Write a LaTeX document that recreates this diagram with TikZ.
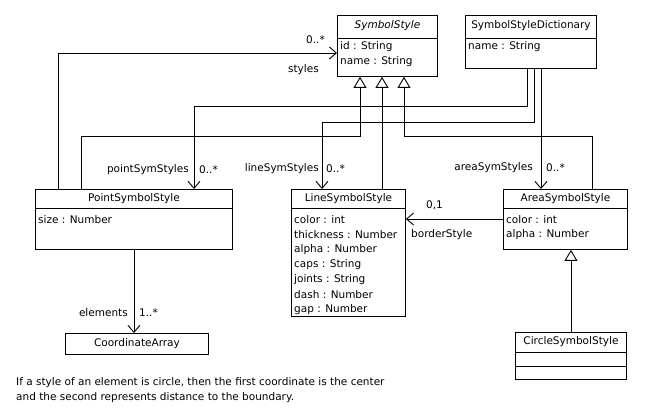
\documentclass[tikz,border=0pt]{standalone}
\usepackage{fontspec}
\setmainfont{DejaVu Sans}
\usetikzlibrary{arrows.meta,calc}
\begin{document}
\begin{tikzpicture}[x=1pt,y=-1pt,
  every node/.style={font=\fontsize{10.5}{12}\selectfont, inner sep=0pt},
  cls/.style={draw, line width=0.9pt, anchor=north west, fill=white},
  ttl/.style={anchor=center},
  attr/.style={anchor=west},
  assoc/.style={draw, line width=0.9pt, -{Straight Barb[length=7pt,width=12pt,line width=0.9pt]}},
  gen/.style={draw, line width=0.9pt, -{Triangle[open,length=11pt,width=13pt,line width=0.9pt,fill=white]}},
  dv/.style={line width=0.9pt}]
\useasboundingbox (0,0) rectangle (650,411);

% classes
\node[cls, minimum width=100pt, minimum height=61pt] (ss) at (337,15) {};
\draw[dv] ($(ss.north west)+(0,23)$) -- ($(ss.north east)+(0,23)$);
\node[ttl, font=\fontsize{10.5}{12}\selectfont\itshape] (sst) at ($(ss.north)+(0,11)$) {SymbolStyle};
\node[attr] (ssa1) at ($(ss.north west)+(3,32)$) {id : String};
\node[attr] (ssa2) at ($(ss.north west)+(3,47)$) {name : String};

\node[cls, minimum width=131pt, minimum height=53pt] (ssd) at (465,15) {};
\draw[dv] ($(ssd.north west)+(0,23)$) -- ($(ssd.north east)+(0,23)$);
\node[ttl] (ssdt) at ($(ssd.north)+(0,11)$) {SymbolStyleDictionary};
\node[attr] (ssda1) at ($(ssd.north west)+(3,32)$) {name : String};

\node[cls, minimum width=197pt, minimum height=60pt] (pss) at (35,189) {};
\draw[dv] ($(pss.north west)+(0,19)$) -- ($(pss.north east)+(0,19)$);
\node[ttl] (psst) at ($(pss.north)+(0,9.5)$) {PointSymbolStyle};
\node[attr] (pssa1) at ($(pss.north west)+(3,31)$) {size : Number};

\node[cls, minimum width=114pt, minimum height=127pt] (lss) at (291,189) {};
\draw[dv] ($(lss.north west)+(0,19)$) -- ($(lss.north east)+(0,19)$);
\node[ttl] (lsst) at ($(lss.north)+(0,9.5)$) {LineSymbolStyle};
\node[attr] (lssa1) at ($(lss.north west)+(3,31)$) {color : int};
\node[attr] (lssa2) at ($(lss.north west)+(3,46)$) {thickness : Number};
\node[attr] (lssa3) at ($(lss.north west)+(3,61)$) {alpha : Number};
\node[attr] (lssa4) at ($(lss.north west)+(3,76)$) {caps : String};
\node[attr] (lssa5) at ($(lss.north west)+(3,91)$) {joints : String};
\node[attr] (lssa6) at ($(lss.north west)+(3,106)$) {dash : Number};
\node[attr] (lssa7) at ($(lss.north west)+(3,121)$) {gap : Number};

\node[cls, minimum width=124pt, minimum height=60pt] (ass) at (503,189) {};
\draw[dv] ($(ass.north west)+(0,19)$) -- ($(ass.north east)+(0,19)$);
\node[ttl] (asst) at ($(ass.north)+(0,9.5)$) {AreaSymbolStyle};
\node[attr] (assa1) at ($(ass.north west)+(3,31)$) {color : int};
\node[attr] (assa2) at ($(ass.north west)+(3,46)$) {alpha : Number};

\node[cls, minimum width=111pt, minimum height=47pt] (css) at (515,332) {};
\draw[dv] ($(css.north west)+(0,20)$) -- ($(css.north east)+(0,20)$);
\draw[dv] ($(css.north west)+(0,34)$) -- ($(css.north east)+(0,34)$);
\node[ttl] (csst) at ($(css.north)+(0,10)$) {CircleSymbolStyle};

\node[cls, minimum width=143pt, minimum height=21pt] (ca) at (65,333) {};
\node[ttl] (cat) at (ca.center) {CoordinateArray};

% associations
\draw[assoc] ($(pss.north west)+(23,0)$) |- ($(ss.north west)+(0,38)$);
\node[anchor=east] (l1) at (325,40) {0..*};
\node[anchor=east] (l2) at (319,70) {styles};

\draw[assoc] ($(ssd.south west)+(62,0)$) -- ++(0,38) -| ($(pss.north west)+(159,0)$);
\node[anchor=east] (l3) at (189,170) {pointSymStyles};
\node[anchor=west] (l4) at (199,170) {0..*};

\draw[assoc] ($(ssd.south west)+(69,0)$) -- ++(0,54) -| ($(lss.north west)+(31,0)$);
\node[anchor=east] (l5) at (319,169) {lineSymStyles};
\node[anchor=west] (l6) at (326,169) {0..*};

\draw[assoc] ($(ssd.south west)+(76,0)$) -- ($(ass.north west)+(38,0)$);
\node[anchor=east] (l7) at (533,168) {areaSymStyles};
\node[anchor=west] (l8) at (546,168) {0..*};

\draw[assoc] ($(ass.north west)+(0,30)$) -- ($(lss.north east)+(0,30)$);
\node[anchor=west] (l9) at (426,205) {0,1};
\node[anchor=west] (l10) at (411,235) {borderStyle};

\draw[assoc] (pss.south) -- (pss.south |- ca.north);
\node[anchor=east] (l11) at (128,313) {elements};
\node[anchor=west] (l12) at (139,313) {1..*};

% generalizations
\draw[gen] ($(pss.north west)+(46,0)$) -- ++(0,-53) -| ($(ss.south west)+(23,0)$);
\draw[gen] ($(lss.north west)+(91,0)$) -- ($(ss.south west)+(45,0)$);
\draw[gen] ($(ass.north west)+(89,0)$) -- ++(0,-53) -| ($(ss.south west)+(67,0)$);
\draw[gen] (css.north) -- (css.north |- ass.south);

% note
\node[anchor=west] (n1) at (16,383) {If a style of an element is circle, then the first coordinate is the center};
\node[anchor=west] (n2) at (16,398) {and the second represents distance to the boundary.};
\end{tikzpicture}
\end{document}
